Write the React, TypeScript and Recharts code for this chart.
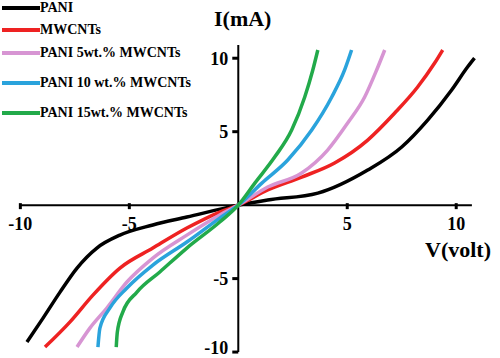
import { Line, LineChart, ReferenceLine, XAxis, YAxis } from 'recharts';

// PANI
const paniV = [-9.7, -8.96, -8.18, -7.4, -6.49, -5.43, -3.92, -2.36, 0, 1.35, 3.65, 5.94, 7.5, 8.69, 9.79, 10.52, 10.84];
const paniI = [-9.32, -7.69, -5.92, -4.28, -2.92, -2.04, -1.35, -0.81, 0, 0.35, 0.82, 2.39, 3.96, 5.79, 7.84, 9.4, 10.01];
// MWCNTs
const mwcntV = [-8.87, -7.73, -6.67, -5.43, -3.92, -2.36, -0.85, 0, 1.35, 2.91, 4.42, 5.94, 7.18, 8.23, 9.01, 9.38];
const mwcntI = [-9.66, -7.96, -6.12, -4.28, -2.92, -1.56, -0.47, 0, 1.03, 1.91, 2.87, 4.43, 6.27, 8.04, 9.67, 10.56];
// PANI 5wt.% MWCNTs
const p5V = [-7.4, -6.81, -6.03, -5.11, -3.92, -2.36, -0.85, 0, 1.35, 2.91, 4.1, 5.02, 5.8, 6.35, 6.72];
const p5I = [-9.66, -8.37, -7.0, -5.23, -3.6, -2.04, -0.67, 0, 1.23, 2.19, 3.75, 5.59, 7.36, 9.2, 10.56];
// PANI 10 wt.% MWCNTs
const p10V = [-6.44, -6.35, -5.89, -5.11, -3.92, -2.36, -0.85, 0, 1.08, 2.27, 3.37, 4.29, 4.88, 5.2];
const p10I = [-9.66, -8.37, -7.0, -5.64, -4.08, -2.51, -0.88, 0, 1.5, 3.07, 5.11, 7.36, 9.2, 10.56];
// PANI 15wt.% MWCNTs
const p15V = [-5.6, -5.55, -5.3, -4.65, -3.6, -2.36, -0.85, 0, 0.76, 1.67, 2.45, 3.05, 3.42, 3.65];
const p15I = [-9.66, -8.64, -7.28, -5.92, -4.55, -2.92, -1.15, 0, 1.5, 3.27, 5.11, 7.36, 9.2, 10.56];

const seriesNames = ['PANI', 'MWCNTs', 'PANI 5wt.% MWCNTs', 'PANI 10 wt.% MWCNTs', 'PANI 15wt.% MWCNTs'];
const seriesColors = ['#000000', '#ee2222', '#d795d3', '#2aa3dc', '#22aa4a'];
const xTicks = [-10, -5, 5, 10];
const yTicks = [-10, -5, 5, 10];

const toPoints = (vs: number[], is: number[]) => vs.map((v, k) => ({ v, i: is[k] }));
const seriesData = [
  toPoints(paniV, paniI),
  toPoints(mwcntV, mwcntI),
  toPoints(p5V, p5I),
  toPoints(p10V, p10I),
  toPoints(p15V, p15I),
];

const W = 500;
const H = 358;
const axisSize = 1;
const margin = { top: 45, right: 22, bottom: 3 - axisSize, left: 16 - axisSize };
const xDomain: [number, number] = [-10.2, 11];
const yDomain: [number, number] = [-10.2, 10.9];
// plot box edges
const plotL = margin.left + axisSize;
const plotR = W - margin.right;
const plotT = margin.top;
const plotB = H - margin.bottom - axisSize;
// where the zero lines end up inside the plot
const zeroX = plotL + ((0 - xDomain[0]) / (xDomain[1] - xDomain[0])) * (plotR - plotL);
const zeroY = plotT + ((yDomain[1] - 0) / (yDomain[1] - yDomain[0])) * (plotB - plotT);

const font = '"Liberation Serif", "Times New Roman", serif';
const legendTops = [8, 30, 53, 83, 113];

const renderXTick = (props: any) => {
  const { x, payload } = props;
  return (
    <g key={`xt-${payload.value}`}>
      <line x1={x} x2={x} y1={zeroY - 2} y2={zeroY + 4} stroke="#000" strokeWidth={3} />
      <text x={x} y={zeroY + 25} textAnchor="middle" fontFamily={font} fontWeight="bold" fontSize={18} fill="#000">
        {payload.value}
      </text>
    </g>
  );
};

const renderYTick = (props: any) => {
  const { y, payload } = props;
  // keep the lowest label inside the picture
  const ty = Math.min(y, H - 10);
  return (
    <g key={`yt-${payload.value}`}>
      <line x1={zeroX - 6} x2={zeroX} y1={y} y2={y} stroke="#000" strokeWidth={3} />
      <text x={zeroX - 10} y={ty} dy="0.35em" textAnchor="end" fontFamily={font} fontWeight="bold" fontSize={18} fill="#000">
        {payload.value}
      </text>
    </g>
  );
};

export default function App() {
  return (
    <div style={{ position: 'absolute', left: 0, top: 0, width: W, height: H, background: '#fff', fontFamily: font }}>
      <LineChart width={W} height={H} margin={margin}>
        <XAxis
          dataKey="v"
          type="number"
          domain={xDomain}
          allowDataOverflow
          ticks={xTicks}
          interval={0}
          height={axisSize}
          axisLine={false}
          tickLine={false}
          tick={renderXTick}
        />
        <YAxis
          dataKey="i"
          type="number"
          domain={yDomain}
          allowDataOverflow
          ticks={yTicks}
          interval={0}
          width={axisSize}
          axisLine={false}
          tickLine={false}
          tick={renderYTick}
        />
        <ReferenceLine segment={[{ x: -10.02, y: 0 }, { x: 10.72, y: 0 }]} stroke="#000" strokeWidth={2} />
        <ReferenceLine segment={[{ x: 0, y: -10.0 }, { x: 0, y: 10.9 }]} stroke="#000" strokeWidth={2} />
        {seriesData.map((d, k) => (
          <Line
            key={seriesNames[k]}
            data={d}
            dataKey="i"
            name={seriesNames[k]}
            type="monotone"
            stroke={seriesColors[k]}
            strokeWidth={3.5}
            dot={false}
            isAnimationActive={false}
          />
        ))}
      </LineChart>

      <div style={{ position: 'absolute', left: 214, top: 6, fontSize: 22, fontWeight: 'bold', lineHeight: '26px' }}>I(mA)</div>
      <div style={{ position: 'absolute', left: 425, top: 237, fontSize: 22, fontWeight: 'bold', lineHeight: '26px' }}>V(volt)</div>

      {seriesNames.map((name, k) => (
        <div key={name} style={{ position: 'absolute', left: 2, top: legendTops[k] - 9, height: 18, display: 'flex', alignItems: 'center' }}>
          <div style={{ width: 38, height: 4, background: seriesColors[k] }} />
          <span style={{ fontSize: 14, fontWeight: 'bold', whiteSpace: 'nowrap' }}>{name}</span>
        </div>
      ))}
    </div>
  );
}
